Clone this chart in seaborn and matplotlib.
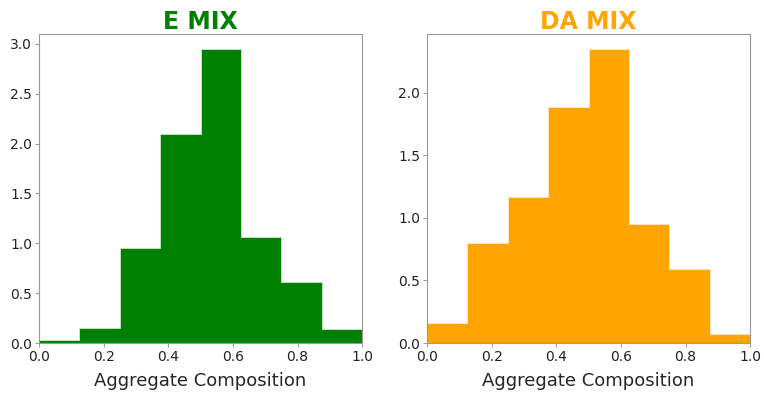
import matplotlib
matplotlib.use("Agg")
import matplotlib.pyplot as plt
import seaborn as sns
import numpy as np

sns.set_style("white")
plt.rcParams['font.family'] = ['DejaVu Sans']

bin_edges = [0.0, 0.125, 0.25, 0.375, 0.5, 0.625, 0.75, 0.875, 1.0]
bin_centers = [0.0625, 0.1875, 0.3125, 0.4375, 0.5625, 0.6875, 0.8125, 0.9375]
e_mix_density = [0.033, 0.153, 0.956, 2.10, 2.95, 1.06, 0.61, 0.14]
da_mix_density = [0.163, 0.80, 1.17, 1.885, 2.352, 0.955, 0.59, 0.072]
x_ticks = [0.0, 0.2, 0.4, 0.6, 0.8, 1.0]

panels = [
    ("E MIX", e_mix_density, "green", "#cfe6cf", [0.0, 0.5, 1.0, 1.5, 2.0, 2.5, 3.0]),
    ("DA MIX", da_mix_density, "orange", "#ffe9c4", [0.0, 0.5, 1.0, 1.5, 2.0]),
]

fig, axes = plt.subplots(1, 2, figsize=(7.64, 3.97), dpi=100)
fig.subplots_adjust(left=0.051, right=0.982, bottom=0.136, top=0.914, wspace=0.2)

for ax, (title, dens, color, edge, yt) in zip(axes, panels):
    sns.histplot(x=bin_centers, weights=dens, bins=bin_edges, stat="count",
                 element="step", fill=True, color=color, alpha=1.0,
                 edgecolor=edge, linewidth=0.6, ax=ax)
    ax.set_xlim(0, 1)
    ax.set_ylim(0, max(dens) * 1.05)
    ax.set_xticks(x_ticks)
    ax.set_yticks(yt)
    ax.set_ylabel("")
    ax.set_xlabel("Aggregate Composition", fontsize=13, labelpad=6)
    ax.set_title(title, color=color, fontsize=17, fontweight="bold", pad=4)
    ax.tick_params(axis="both", labelsize=10, length=3, width=0.6,
                   color="#888888", labelcolor="#222222", direction="out",
                   bottom=True, left=True, pad=2)
    for s in ax.spines.values():
        s.set_color("#999999")
        s.set_linewidth(0.8)

fig.savefig("out.png", dpi=100)
